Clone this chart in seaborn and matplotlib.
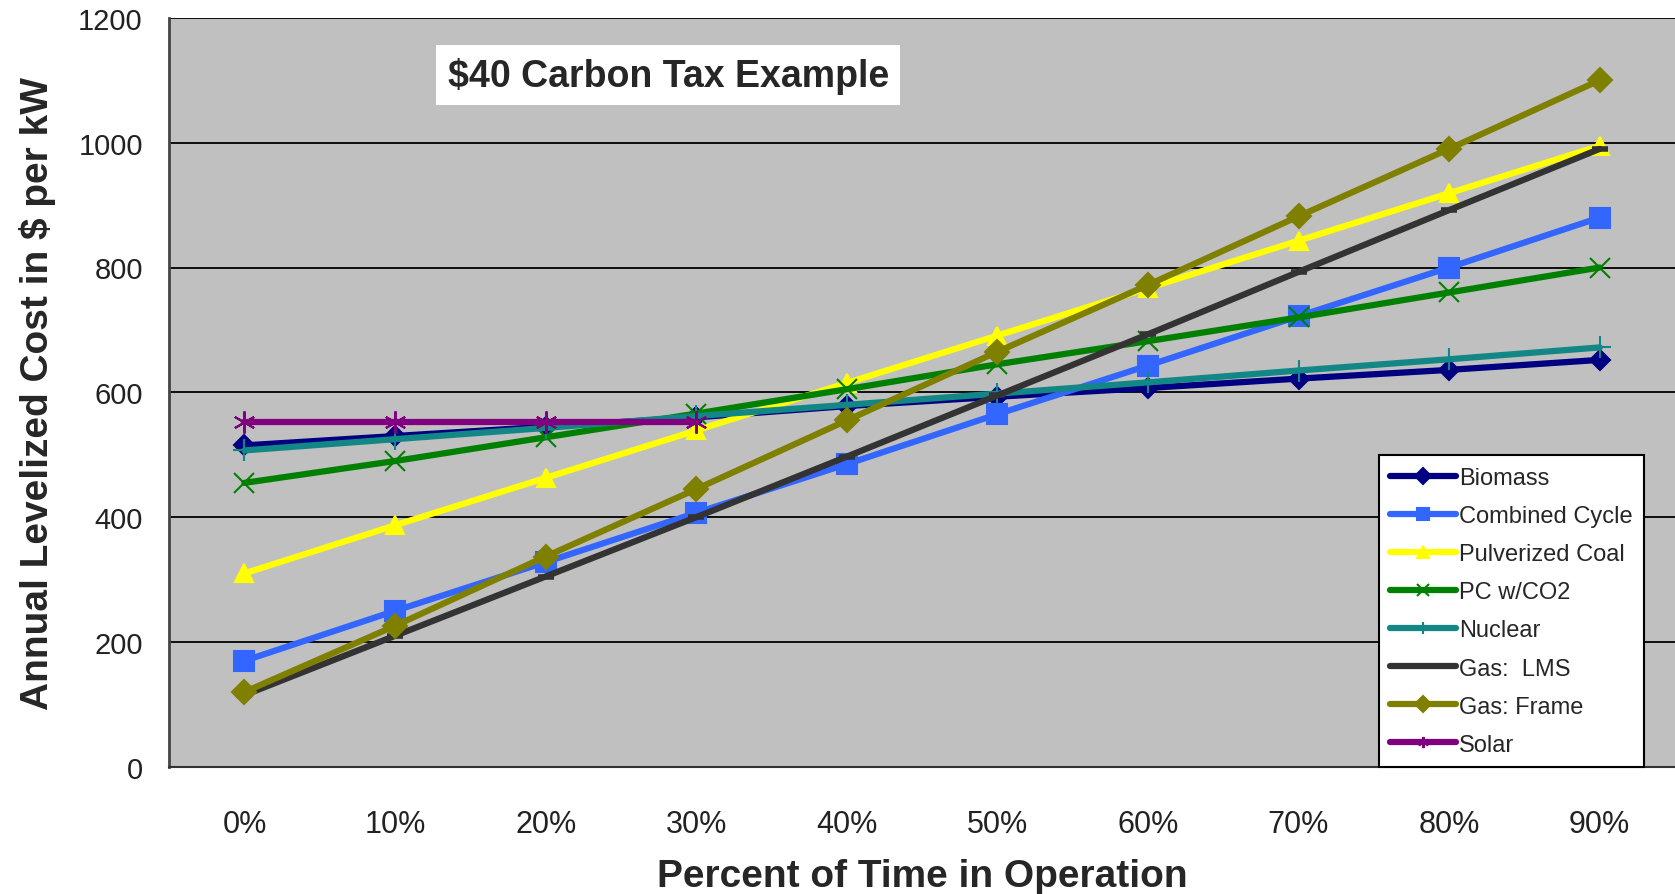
import matplotlib
matplotlib.use("Agg")
import matplotlib.pyplot as plt
import seaborn as sns
import pandas as pd
import numpy as np

categories = ["0%", "10%", "20%", "30%", "40%", "50%", "60%", "70%", "80%", "90%"]
biomass = [515, 530, 545, 560, 578, 593, 607, 622, 636, 652]
combined_cycle = [170, 250, 328, 407, 485, 565, 643, 722, 800, 880]
pulverized_coal = [310, 387, 463, 539, 615, 691, 767, 843, 919, 995]
pc_co2 = [455, 490, 528, 566, 605, 645, 682, 720, 760, 800]
nuclear = [507, 525, 543, 562, 580, 598, 616, 635, 653, 672]
gas_lms = [115, 210, 305, 400, 497, 595, 693, 793, 892, 990]
gas_frame = [120, 226, 337, 445, 555, 665, 772, 882, 990, 1100]
solar = [552, 552, 552, 552]

series_names = ["Biomass", "Combined Cycle", "Pulverized Coal", "PC w/CO2",
                "Nuclear", "Gas:  LMS", "Gas: Frame", "Solar"]
series_values = [biomass, combined_cycle, pulverized_coal, pc_co2,
                 nuclear, gas_lms, gas_frame, solar]
colors = ["#000080", "#3366FF", "#FFFF00", "#008000",
          "#138686", "#333333", "#808000", "#800080"]
markers = ["D", "s", "^", "x", "+", "_", "D", (6, 2, 0)]
msizes = [10, 14, 13, 14, 16, 12, 12, 16]
mews = [1.5, 1.5, 1.5, 1.5, 1.5, 4, 1.5, 1.5]

sns.set_style("white")
plt.rcParams['font.family'] = ['Liberation Sans', 'DejaVu Sans']

fig = plt.figure(figsize=(16.75, 8.95), dpi=100)
ax = fig.add_axes([0.101, 0.142, 0.899, 0.837])
ax.set_facecolor("#C0C0C0")

for name, vals, c, m, ms, mew in zip(series_names, series_values, colors, markers, msizes, mews):
    df = pd.DataFrame({"pos": np.arange(len(vals)), "cost": vals})
    sns.lineplot(data=df, x="pos", y="cost", ax=ax, color=c, marker=m,
                 markersize=ms, markeredgewidth=mew, markeredgecolor=c,
                 linewidth=4.5, label=name, zorder=3)

ax.set_xlim(-0.5, len(categories) - 0.5)
ax.set_ylim(0, 1200)
ax.set_yticks(range(0, 1201, 200))
ax.set_xticks(range(len(categories)))
ax.set_xticklabels(categories)
ax.set_xticks(np.arange(-0.5, len(categories), 1.0), minor=True)
ax.tick_params(axis="x", which="major", length=0, labelsize=22, pad=30, colors="#222222")
ax.tick_params(axis="x", which="minor", length=11, width=1.2, color="#333333", direction="out")
ax.tick_params(axis="y", length=11, width=1.2, labelsize=21, colors="#333333", direction="out", pad=8)
for lab in ax.get_yticklabels():
    lab.set_color("#222222")

ax.grid(axis="y", color="black", linewidth=1.3, zorder=1)
ax.grid(axis="x", visible=False)
ax.set_axisbelow(True)
for s in ["top", "right"]:
    ax.spines[s].set_visible(False)
ax.spines["left"].set_color("#444444")
ax.spines["left"].set_linewidth(2)
ax.spines["bottom"].set_color("#333333")
ax.spines["bottom"].set_linewidth(1.5)

ax.set_xlabel("Percent of Time in Operation", fontsize=28, fontweight="bold", labelpad=14)
ax.set_ylabel("Annual Levelized Cost in $ per kW", fontsize=28, fontweight="bold", labelpad=16)

fig.text(0.399, 0.915, "$40 Carbon Tax Example", fontsize=27, fontweight="bold",
         ha="center", va="center",
         bbox=dict(facecolor="white", edgecolor="none", boxstyle="square,pad=0.3"))

leg = ax.legend(loc="upper left", bbox_to_anchor=(0.823, 0.490), bbox_transform=fig.transFigure,
                fontsize=17, frameon=True, fancybox=False, handlelength=2.8,
                handletextpad=0.1, labelspacing=0.68, borderpad=0.5, borderaxespad=0)
leg.get_frame().set_edgecolor("black")
leg.get_frame().set_linewidth(1.5)
leg.get_frame().set_facecolor("white")
leg.get_frame().set_alpha(1)
for h in leg.get_lines():
    h.set_markersize(8)

fig.savefig("out.png", dpi=100)
